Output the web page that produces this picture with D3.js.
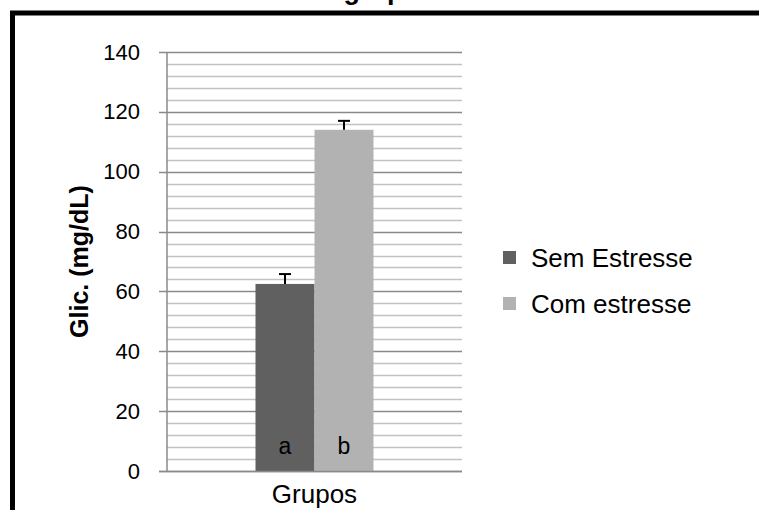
<!DOCTYPE html>
<html>
<head>
<meta charset="utf-8">
<script src="https://cdn.jsdelivr.net/npm/d3@7"></script>
<style>
  html, body { margin: 0; padding: 0; background: #fff; }
  svg { display: block; font-family: "Liberation Sans", Arial, sans-serif; }
</style>
</head>
<body>
<svg id="chart" width="759" height="510"></svg>
<script>
// Glicemia (mg/dL) por grupo: média ± erro
const categories = ["Grupos"];
const seriesNames = ["Sem Estresse", "Com estresse"];
const meanValues = [62.5, 114];
const errorValues = [3.3, 3];
const groupLetters = ["a", "b"];
const majorTicks = [0, 20, 40, 60, 80, 100, 120, 140];
const minorStep = 4;

const W = 759, H = 510;
const plot = { left: 167, right: 462, top: 52, bottom: 471 };
const seriesColor = d3.scaleOrdinal().domain(seriesNames).range(["#606060", "#b2b2b2"]);

const svg = d3.select("#chart");

// outer chart frame (runs past the right and bottom edges)
svg.append("rect")
  .attr("x", 12.5).attr("y", 13)
  .attr("width", 820).attr("height", 620)
  .attr("fill", "#fff")
  .attr("stroke", "#000")
  .attr("stroke-width", 5);

// title, mostly above the visible area
svg.append("text")
  .attr("x", 435).attr("y", -1)
  .attr("text-anchor", "end")
  .attr("font-size", 27)
  .attr("font-weight", "bold")
  .attr("fill", "#000")
  .text("Glicemia dos grupos");

const y = d3.scaleLinear().domain([0, 140]).range([plot.bottom, plot.top]);
const x = d3.scaleBand().domain(categories).range([plot.left, plot.right])
  .paddingInner(0).paddingOuter(0.75);
const xs = d3.scaleBand().domain(seriesNames).range([0, x.bandwidth()]);

// minor gridlines
const minorTicks = d3.range(0, 140 + 0.001, minorStep).filter(v => v % 20 !== 0);
svg.append("g").selectAll("line").data(minorTicks).join("line")
  .attr("x1", plot.left).attr("x2", plot.right)
  .attr("y1", d => Math.round(y(d)) + 0.5).attr("y2", d => Math.round(y(d)) + 0.5)
  .attr("stroke", "#c2c2c2").attr("stroke-width", 1.3);

// major gridlines, extending left as tick marks
svg.append("g").selectAll("line").data(majorTicks).join("line")
  .attr("x1", plot.left - 8).attr("x2", plot.right)
  .attr("y1", d => Math.round(y(d)) + 0.5).attr("y2", d => Math.round(y(d)) + 0.5)
  .attr("stroke", "#8a8a8a").attr("stroke-width", 1.5);

// vertical value axis line
svg.append("line")
  .attr("x1", plot.left).attr("x2", plot.left)
  .attr("y1", y(140)).attr("y2", y(0))
  .attr("stroke", "#8a8a8a").attr("stroke-width", 1.5);

// tick labels via d3 axis
const yAxis = svg.append("g")
  .attr("transform", `translate(${plot.left - 27},0)`)
  .call(d3.axisLeft(y).tickValues(majorTicks).tickSize(0).tickPadding(0).tickFormat(d3.format("d")));
yAxis.select(".domain").remove();
yAxis.selectAll("text")
  .attr("font-family", "'Liberation Sans', Arial, sans-serif")
  .attr("font-size", 22)
  .attr("fill", "#000");

// bars
const idx = seriesNames.map((s, i) => i);
const barG = svg.append("g").attr("transform", `translate(${x(categories[0])},0)`);
barG.selectAll("rect").data(idx).join("rect")
  .attr("x", i => xs(seriesNames[i]))
  .attr("width", xs.bandwidth())
  .attr("y", i => y(meanValues[i]))
  .attr("height", i => y(0) - y(meanValues[i]))
  .attr("fill", i => seriesColor(seriesNames[i]));

// error bars (upper side)
const cx = i => xs(seriesNames[i]) + xs.bandwidth() / 2;
barG.selectAll("line.err").data(idx).join("line").attr("class", "err")
  .attr("x1", cx).attr("x2", cx)
  .attr("y1", i => y(meanValues[i])).attr("y2", i => y(meanValues[i] + errorValues[i]))
  .attr("stroke", "#000").attr("stroke-width", 2);
barG.selectAll("line.cap").data(idx).join("line").attr("class", "cap")
  .attr("x1", i => cx(i) - 6).attr("x2", i => cx(i) + 6)
  .attr("y1", i => y(meanValues[i] + errorValues[i])).attr("y2", i => y(meanValues[i] + errorValues[i]))
  .attr("stroke", "#000").attr("stroke-width", 2);

// group letters inside bars
barG.selectAll("text.letter").data(idx).join("text").attr("class", "letter")
  .attr("x", cx).attr("y", y(0) - 17)
  .attr("text-anchor", "middle")
  .attr("font-size", 23)
  .attr("fill", "#000")
  .text(i => groupLetters[i]);

// baseline
svg.append("line")
  .attr("x1", plot.left - 8).attr("x2", plot.right)
  .attr("y1", Math.round(y(0)) + 0.5).attr("y2", Math.round(y(0)) + 0.5)
  .attr("stroke", "#8a8a8a").attr("stroke-width", 1.5);

// category label
svg.append("text")
  .attr("x", x(categories[0]) + x.bandwidth() / 2).attr("y", 503)
  .attr("text-anchor", "middle")
  .attr("font-size", 26)
  .attr("fill", "#000")
  .text(categories[0]);

// value axis title
svg.append("text")
  .attr("transform", `translate(88,${(plot.top + plot.bottom) / 2}) rotate(-90)`)
  .attr("text-anchor", "middle")
  .attr("font-size", 25)
  .attr("font-weight", "bold")
  .attr("fill", "#000")
  .text("Glic. (mg/dL)");

// legend
const legend = svg.append("g").attr("transform", "translate(503,251)");
const li = legend.selectAll("g").data(idx).join("g")
  .attr("transform", i => `translate(0,${i * 46})`);
li.append("rect").attr("width", 13).attr("height", 13)
  .attr("fill", i => seriesColor(seriesNames[i]));
li.append("text").attr("x", 28).attr("y", 16)
  .attr("font-size", 26).attr("fill", "#000")
  .text(i => seriesNames[i]);
</script>
</body>
</html>
